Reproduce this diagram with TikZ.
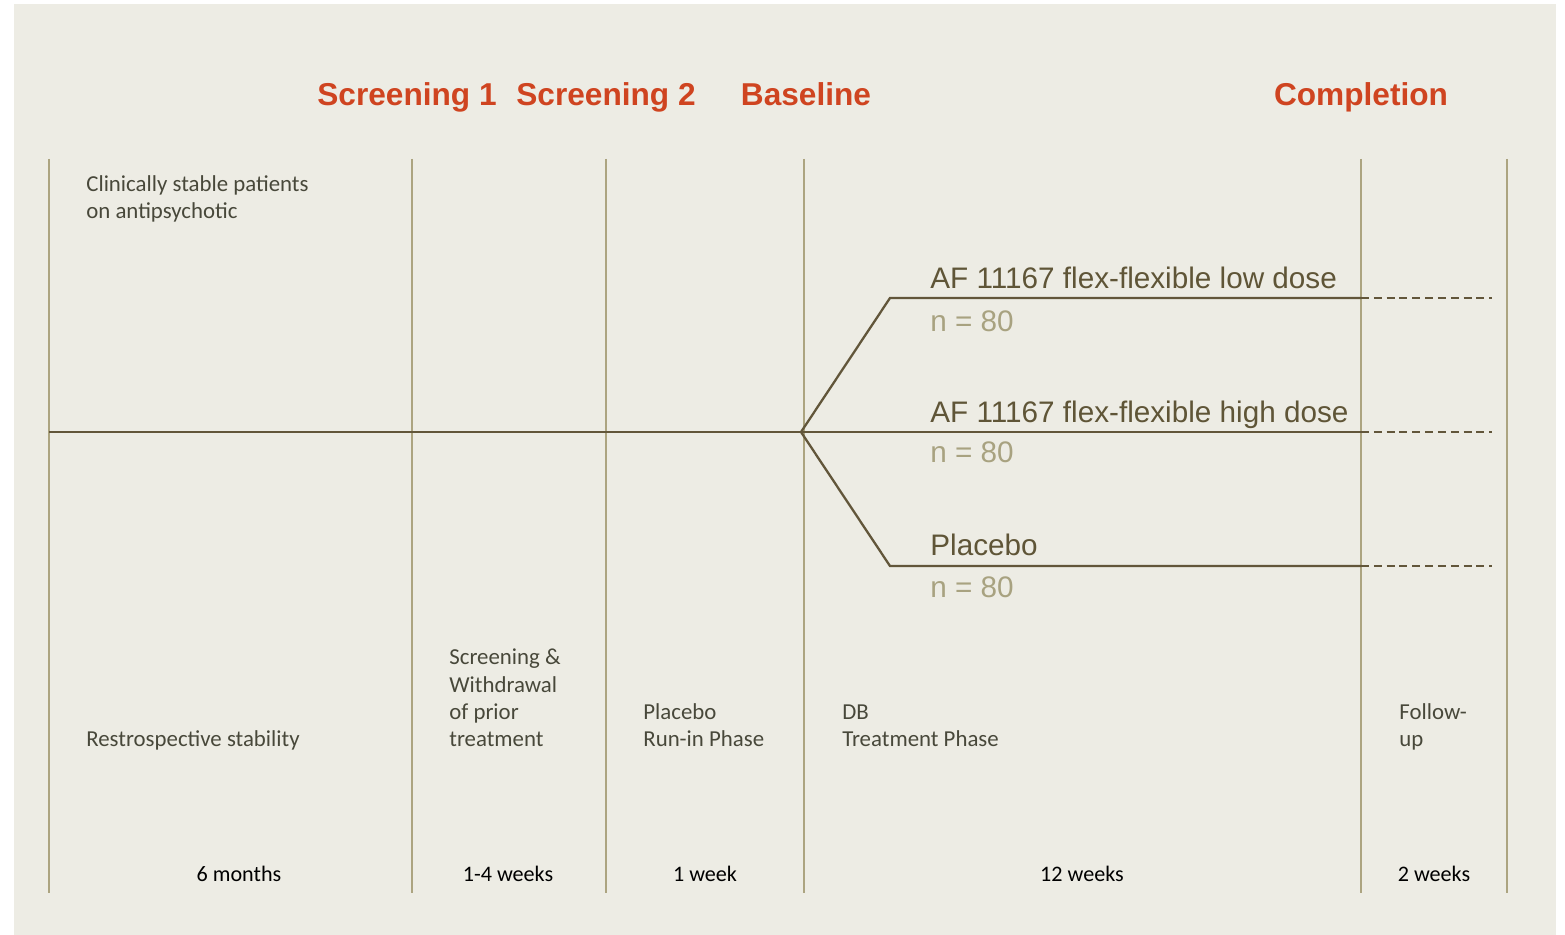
\documentclass[tikz,border=0pt]{standalone}
\usepackage{fontspec}
\setmainfont{Carlito}
\newfontfamily\arialfont{Liberation Sans}
\definecolor{bgbeige}{RGB}{237,236,228}
\definecolor{gridline}{RGB}{172,164,128}
\definecolor{armline}{RGB}{98,86,58}
\definecolor{visitred}{RGB}{207,68,32}
\definecolor{armtext}{RGB}{95,85,55}
\definecolor{ntext}{RGB}{168,162,128}
\definecolor{phasetext}{RGB}{72,72,58}
\tikzset{
  visit/.style={anchor=base, inner sep=0pt, text=visitred, font=\arialfont\bfseries\fontsize{18}{21}\selectfont},
  arm/.style={anchor=base west, inner sep=0pt, text=armtext, font=\arialfont\fontsize{16.9}{20}\selectfont},
  armn/.style={arm, text=ntext},
  phase/.style={anchor=base west, inner sep=0pt, align=left, text=phasetext, font=\fontsize{13}{15.5}\selectfont},
  dur/.style={anchor=base, inner sep=0pt, text=black, font=\fontsize{12.6}{15}\selectfont},
  armpath/.style={armline, line width=1.3pt},
  followpath/.style={armline, line width=0.9pt, dash pattern=on 4.5pt off 2.8pt}
}
\begin{document}
\begin{tikzpicture}[x=0.02cm, y=-0.02cm]
\useasboundingbox (0,0) rectangle (1565,935);
\fill[bgbeige] (14,4) rectangle (1556,935);

% period borders
\draw[gridline, line width=1.2pt]
      (49,159) -- (49,893)     (412,159) -- (412,893)   (606,159) -- (606,893)
      (804,159) -- (804,893)   (1361,159) -- (1361,893) (1507,159) -- (1507,893);

% visits
\node[visit] (scr1) at (407,106) {Screening 1};
\node[visit] (scr2) at (606,106) {Screening 2};
\node[visit] (basel) at (806,106) {Baseline};
\node[visit] (compl) at (1361,106) {Completion};

% arms
\coordinate (start) at (49,432);
\coordinate (rand) at (801,432);
\coordinate (lowknee) at (890,298);
\coordinate (pboknee) at (890,566);
\coordinate (lowend) at (1361,298);
\coordinate (highend) at (1361,432);
\coordinate (pboend) at (1361,566);
\coordinate (lowfu) at (1492,298);
\coordinate (highfu) at (1492,432);
\coordinate (pbofu) at (1492,566);

\draw[armpath] (start) -- (rand) -- (highend);
\draw[armpath] (rand) -- (lowknee) -- (lowend);
\draw[armpath] (rand) -- (pboknee) -- (pboend);
\draw[followpath] (lowend) -- (lowfu)
                  (highend) -- (highfu)
                  (pboend) -- (pbofu);

\node[arm] (armlow) at (930,289) {AF 11167 flex-flexible low dose};
\node[armn] (nlow) at (930,332) {n = 80};
\node[arm] (armhigh) at (930,423) {AF 11167 flex-flexible high dose};
\node[armn] (nhigh) at (930,463) {n = 80};
\node[arm] (armpbo) at (930,556) {Placebo};
\node[armn] (npbo) at (930,597) {n = 80};

% phases
\node[phase] (clin) at (86,218.5) {Clinically stable patients\\on antipsychotic};
\node[phase] (retro) at (86,746.5) {Restrospective stability};
\node[phase] (withdr) at (449,746.5) {Screening \&\\Withdrawal\\of prior\\treatment};
\node[phase] (runin) at (643,746.5) {Placebo\\Run-in Phase};
\node[phase] (dbtreat) at (842,746.5) {DB\\Treatment Phase};
\node[phase] (follow) at (1399,746.5) {Follow-\\up};

% durations
\node[dur] (dur1) at (239,881) {6 months};
\node[dur] (dur2) at (508,881) {1-4 weeks};
\node[dur] (dur3) at (705,881) {1 week};
\node[dur] (dur4) at (1082,881) {12 weeks};
\node[dur] (dur5) at (1434,881) {2 weeks};
\end{tikzpicture}
\end{document}
